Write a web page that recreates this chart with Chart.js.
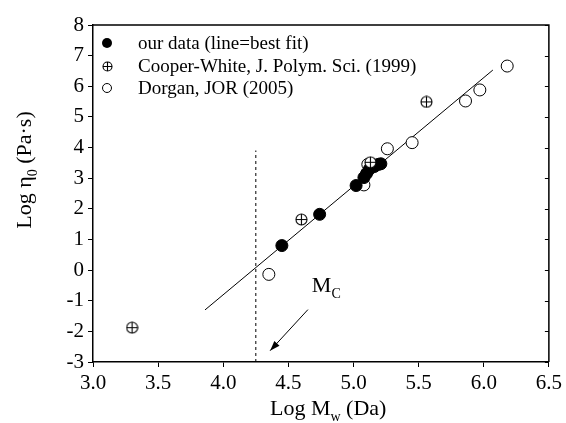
<!DOCTYPE html>
<html><head><meta charset="utf-8">
<script src="https://cdn.jsdelivr.net/npm/chart.js@4"></script>
<style>html,body{margin:0;padding:0;background:#fff}</style>
</head><body>
<canvas id="c" width="566" height="423" style="width:566px;height:423px"></canvas>
<script>
// ---- data ----
const seriesNames = ["our data (line=best fit)", "Cooper-White, J. Polym. Sci. (1999)", "Dorgan, JOR (2005)"];
const ourX = [4.45, 4.74, 5.02, 5.08, 5.10, 5.12, 5.16, 5.19, 5.21];
const ourY = [0.80, 1.82, 2.76, 3.02, 3.15, 3.28, 3.38, 3.45, 3.47];
const cwX = [3.30, 4.60, 5.13, 5.56];
const cwY = [-1.88, 1.65, 3.52, 5.49];
const dorX = [4.35, 5.08, 5.11, 5.26, 5.45, 5.86, 5.97, 6.18];
const dorY = [-0.14, 2.78, 3.45, 3.96, 4.16, 5.52, 5.88, 6.66];
const fitX = [3.86, 6.07];
const fitY = [-1.30, 6.53];
const mcLineX = [4.25, 4.25];
const mcLineY = [-3, 3.9];
const arrowX = [4.65, 4.36];
const arrowY = [-1.29, -2.63];
const mcLabelPos = [4.68, -0.72];
const xTicks = [3.0, 3.5, 4.0, 4.5, 5.0, 5.5, 6.0, 6.5];
const yTicks = [-3, -2, -1, 0, 1, 2, 3, 4, 5, 6, 7, 8];

const pts = (xs, ys) => xs.map((x, i) => ({x: x, y: ys[i]}));
const SERIF = "'Liberation Serif', 'Times New Roman', serif";

function makeCross(size, r) {
  const c = document.createElement('canvas');
  c.width = size; c.height = size;
  const g = c.getContext('2d');
  const m = size / 2;
  g.fillStyle = '#fff';
  g.beginPath(); g.arc(m, m, r, 0, 2 * Math.PI); g.fill();
  g.strokeStyle = '#000'; g.lineWidth = 1.1;
  g.stroke();
  g.beginPath();
  g.moveTo(m - r, m); g.lineTo(m + r, m);
  g.moveTo(m, m - r); g.lineTo(m, m + r);
  g.stroke();
  return c;
}
const crossImg = makeCross(13, 5.5);
const crossImgSmall = makeCross(11, 4.5);

const decor = {
  id: 'decor',
  afterDatasetsDraw(chart) {
    const ctx = chart.ctx, a = chart.chartArea;
    const xs = chart.scales.x, ys = chart.scales.y;
    ctx.save();
    // frame top & right
    ctx.strokeStyle = '#000'; ctx.lineWidth = 1.5;
    ctx.beginPath();
    ctx.moveTo(a.left, a.top); ctx.lineTo(a.right, a.top); ctx.lineTo(a.right, a.bottom);
    ctx.stroke();
    // inward ticks on the right
    ctx.lineWidth = 1;
    ctx.beginPath();
    yTicks.forEach(v => { const py = Math.round(ys.getPixelForValue(v)) + 0.5; ctx.moveTo(a.right - 4, py); ctx.lineTo(a.right, py); });
    ctx.stroke();

    // arrow head
    const meta = chart.getDatasetMeta(5);
    const p0 = meta.data[0], p1 = meta.data[1];
    const ang = Math.atan2(p1.y - p0.y, p1.x - p0.x);
    const L = 10, W = 3.5;
    ctx.fillStyle = '#000';
    ctx.beginPath();
    ctx.moveTo(p1.x, p1.y);
    ctx.lineTo(p1.x - L * Math.cos(ang) + W * Math.sin(ang), p1.y - L * Math.sin(ang) - W * Math.cos(ang));
    ctx.lineTo(p1.x - L * Math.cos(ang) - W * Math.sin(ang), p1.y - L * Math.sin(ang) + W * Math.cos(ang));
    ctx.closePath(); ctx.fill();

    // M_C label
    ctx.fillStyle = '#000';
    ctx.textBaseline = 'alphabetic'; ctx.textAlign = 'left';
    const mx = xs.getPixelForValue(mcLabelPos[0]), my = ys.getPixelForValue(mcLabelPos[1]);
    ctx.font = '22px ' + SERIF;
    ctx.fillText('M', mx, my);
    const mw = ctx.measureText('M').width;
    ctx.font = '14px ' + SERIF;
    ctx.fillText('C', mx + mw, my + 6);

    // legend
    const lx = 107, tx = 138, rows = [43, 66, 88];
    ctx.textBaseline = 'middle';
    ctx.font = '19px ' + SERIF;
    ctx.beginPath(); ctx.arc(lx, rows[0], 5, 0, 2 * Math.PI); ctx.fill();
    ctx.drawImage(crossImgSmall, Math.round(lx - 5.5), Math.round(rows[1] - 5.5));
    ctx.beginPath(); ctx.arc(lx, rows[2], 4.5, 0, 2 * Math.PI);
    ctx.lineWidth = 1; ctx.strokeStyle = '#000'; ctx.stroke();
    seriesNames.forEach((s, i) => ctx.fillText(s, tx, rows[i] + 1));

    // x axis title
    ctx.textBaseline = 'alphabetic';
    ctx.font = '22px ' + SERIF;
    let x0 = 270, by = 415;
    ctx.fillText('Log M', x0, by);
    let w1 = ctx.measureText('Log M').width;
    ctx.font = '14px ' + SERIF;
    ctx.fillText('w', x0 + w1, by + 6);
    let w2 = ctx.measureText('w').width;
    ctx.font = '22px ' + SERIF;
    ctx.fillText(' (Da)', x0 + w1 + w2, by);

    // y axis title
    ctx.translate(31, 170);
    ctx.rotate(-Math.PI / 2);
    ctx.font = '22px ' + SERIF;
    const t1 = 'Log \u03b7', t3 = ' (Pa\u00b7s)';
    const a1 = ctx.measureText(t1).width, a3 = ctx.measureText(t3).width;
    ctx.font = '14px ' + SERIF;
    const a2 = ctx.measureText('0').width;
    const start = -(a1 + a2 + a3) / 2;
    ctx.font = '22px ' + SERIF;
    ctx.fillText(t1, start, 0);
    ctx.font = '14px ' + SERIF;
    ctx.fillText('0', start + a1, 6);
    ctx.font = '22px ' + SERIF;
    ctx.fillText(t3, start + a1 + a2, 0);
    ctx.restore();
  }
};

new Chart(document.getElementById('c'), {
  type: 'scatter',
  data: {
    datasets: [
      { label: seriesNames[0], data: pts(ourX, ourY), pointStyle: 'circle', pointRadius: 6, backgroundColor: '#000', borderColor: '#000', borderWidth: 1, order: 2 },
      { label: seriesNames[1], data: pts(cwX, cwY), pointStyle: crossImg, pointRadius: 6, order: 1 },
      { label: seriesNames[2], data: pts(dorX, dorY), pointStyle: 'circle', pointRadius: 6, backgroundColor: '#fff', borderColor: '#000', borderWidth: 1, order: 3 },
      { label: 'fit', type: 'line', data: pts(fitX, fitY), borderColor: '#000', borderWidth: 1, pointRadius: 0, order: 5 },
      { label: 'Mc', type: 'line', data: pts(mcLineX, mcLineY), borderColor: '#000', borderWidth: 1, borderDash: [3, 3], pointRadius: 0, order: 5 },
      { label: 'arrow', type: 'line', data: pts(arrowX, arrowY), borderColor: '#000', borderWidth: 1, pointRadius: 0, order: 5 }
    ]
  },
  options: {
    responsive: false,
    animation: false,
    events: [],
    layout: { padding: { top: 25, right: 16, left: 0, bottom: 0 } },
    plugins: { legend: { display: false }, tooltip: { enabled: false } },
    scales: {
      x: {
        type: 'linear', min: 3, max: 6.5,
        afterBuildTicks: s => { s.ticks = xTicks.map(v => ({ value: v })); },
        afterFit: s => { s.height = 61; },
        ticks: { color: '#000', font: { family: SERIF, size: 21 }, padding: 4, callback: v => Number(v).toFixed(1), maxRotation: 0, autoSkip: false },
        grid: { drawOnChartArea: false, drawTicks: true, tickLength: 5, tickColor: '#000', tickWidth: 1 },
        border: { color: '#000', width: 1.5 },
        title: { display: false }
      },
      y: {
        type: 'linear', min: -3, max: 8,
        afterBuildTicks: s => { s.ticks = yTicks.map(v => ({ value: v })); },
        afterFit: s => { s.width = 93; },
        ticks: { color: '#000', font: { family: SERIF, size: 21 }, padding: 4, autoSkip: false },
        grid: { drawOnChartArea: false, drawTicks: true, tickLength: 5, tickColor: '#000', tickWidth: 1 },
        border: { color: '#000', width: 1.5 },
        title: { display: false }
      }
    }
  },
  plugins: [decor]
});
</script>
</body></html>
